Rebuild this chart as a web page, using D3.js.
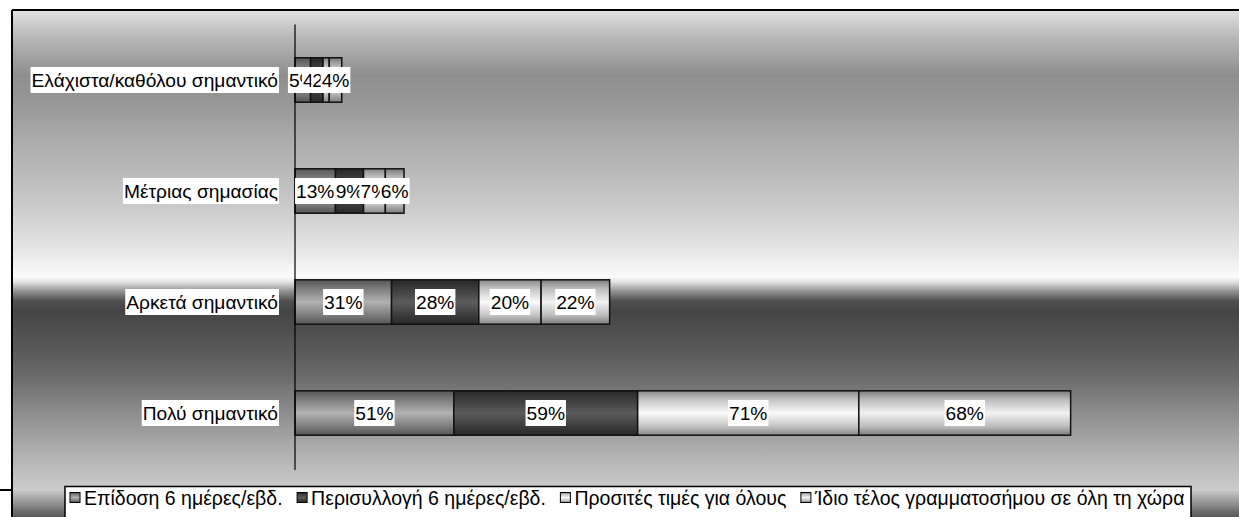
<!DOCTYPE html>
<html>
<head>
<meta charset="utf-8">
<script src="https://cdn.jsdelivr.net/npm/d3@7"></script>
<style>
  html, body { margin: 0; padding: 0; background: #fff; }
  svg { display: block; }
  text { font-family: "Liberation Sans", Arial, sans-serif; }
</style>
</head>
<body>
<svg id="chart" width="1239" height="517"></svg>
<script>
// Importance ratings (%) for each postal service aspect
const categories = ["Ελάχιστα/καθόλου σημαντικό", "Μέτριας σημασίας", "Αρκετά σημαντικό", "Πολύ σημαντικό"];
const seriesNames = ["Επίδοση 6 ημέρες/εβδ.", "Περισυλλογή 6 ημέρες/εβδ.", "Προσιτές τιμές για όλους", "Ίδιο τέλος γραμματοσήμου σε όλη τη χώρα"];
const delivery = [5, 13, 31, 51];
const collection = [4, 9, 28, 59];
const prices = [2, 7, 20, 71];
const postage = [4, 6, 22, 68];
const xMax = 300;

const seriesValues = [delivery, collection, prices, postage];
const keys = ["s0", "s1", "s2", "s3"];
const rows = categories.map((c, i) => {
  const r = { category: c };
  keys.forEach((k, j) => r[k] = seriesValues[j][i]);
  return r;
});

const svg = d3.select("#chart");
const defs = svg.append("defs");

// Chart area background: banded grey "chrome" gradient
const bg = defs.append("linearGradient").attr("id", "bg")
  .attr("x1", 0).attr("y1", 0).attr("x2", 0).attr("y2", 1);
[[0, "#e2e2e2"], [0.06, "#b6b6b6"], [0.135, "#8e8e8e"], [0.19, "#979797"],
 [0.29, "#b0b0b0"], [0.40, "#c8c8c8"], [0.50, "#e6e6e6"], [0.555, "#fbfbfb"],
 [0.565, "#e4e4e4"], [0.585, "#909090"], [0.605, "#505050"], [0.625, "#444444"],
 [0.69, "#555555"], [0.73, "#606060"], [0.77, "#6e6e6e"], [0.83, "#8a8a8a"],
 [0.92, "#b0b0b0"], [1, "#cccccc"]]
  .forEach(([o, c]) => bg.append("stop").attr("offset", o).attr("stop-color", c));

const bg2 = defs.append("linearGradient").attr("id", "bg2")
  .attr("x1", 0).attr("y1", 0).attr("x2", 0).attr("y2", 1);
[[0, "#c6c6c6"], [0.35, "#9a9a9a"], [0.7, "#6a6a6a"], [1, "#4c4c4c"]]
  .forEach(([o, c]) => bg2.append("stop").attr("offset", o).attr("stop-color", c));

// Bar fills: vertical metallic gradients, one per series
const barStops = [
  ["#565656", "#7c7c7c", "#b2b2b2"],
  ["#282828", "#3c3c3c", "#5c5c5c"],
  ["#888888", "#c4c4c4", "#fafafa"],
  ["#7c7c7c", "#bcbcbc", "#f2f2f2"]
];
barStops.forEach((s, i) => {
  const g = defs.append("linearGradient").attr("id", "bar" + i)
    .attr("x1", 0).attr("y1", 0).attr("x2", 0).attr("y2", 1);
  [[0, s[0]], [0.2, s[1]], [0.5, s[2]], [0.8, s[1]], [1, s[0]]]
    .forEach(([o, c]) => g.append("stop").attr("offset", o).attr("stop-color", c));
});

// Background panels and frame
svg.append("rect").attr("x", 12).attr("y", 10).attr("width", 1240).attr("height", 481)
  .attr("fill", "url(#bg)");
svg.append("rect").attr("x", 12).attr("y", 491).attr("width", 1240).attr("height", 30)
  .attr("fill", "url(#bg2)");
svg.append("line").attr("x1", 12).attr("x2", 1239).attr("y1", 10).attr("y2", 10)
  .attr("stroke", "#000").attr("stroke-width", 2);
svg.append("line").attr("x1", 12).attr("x2", 12).attr("y1", 10).attr("y2", 517)
  .attr("stroke", "#000").attr("stroke-width", 2);
svg.append("line").attr("x1", 0).attr("x2", 12).attr("y1", 490).attr("y2", 490)
  .attr("stroke", "#000").attr("stroke-width", 2);

// Scales
const x = d3.scaleLinear().domain([0, xMax]).range([295, 295 + 3.115 * xMax]);
const y = d3.scaleBand().domain(categories).range([24.5, 468.5])
  .paddingInner(0.6).paddingOuter(0.3);

const stacked = d3.stack().keys(keys)(rows);

// Bars
const layers = svg.append("g").selectAll("g").data(stacked).join("g")
  .attr("fill", (d, i) => `url(#bar${i})`);
layers.selectAll("rect").data(d => d).join("rect")
  .attr("x", d => x(d[0]))
  .attr("y", d => y(d.data.category))
  .attr("width", d => x(d[1]) - x(d[0]))
  .attr("height", y.bandwidth())
  .attr("stroke", "#111")
  .attr("stroke-width", 1.5);

// Category axis line
svg.append("line").attr("x1", x(0)).attr("x2", x(0)).attr("y1", 24.5).attr("y2", 470)
  .attr("stroke", "#000").attr("stroke-width", 1.2);

const fontSize = 19.2;

// Value labels on white boxes, drawn series by series
stacked.forEach(layer => {
  layer.forEach(d => {
    const g = svg.append("g");
    const cx = (x(d[0]) + x(d[1])) / 2;
    const cy = y(d.data.category) + y.bandwidth() / 2;
    const t = g.append("text").attr("x", cx).attr("y", cy)
      .attr("text-anchor", "middle").attr("dominant-baseline", "central")
      .attr("font-size", fontSize).attr("fill", "#000")
      .text((d[1] - d[0]) + "%");
    const w = t.node().getComputedTextLength();
    g.insert("rect", "text").attr("x", cx - w / 2 - 1).attr("y", cy - 13)
      .attr("width", w + 2).attr("height", 26).attr("fill", "#fff");
  });
});

// Category labels
categories.forEach(c => {
  const g = svg.append("g");
  const cy = y(c) + y.bandwidth() / 2;
  const t = g.append("text").attr("x", 278).attr("y", cy)
    .attr("text-anchor", "end").attr("dominant-baseline", "central")
    .attr("font-size", fontSize).attr("fill", "#000").text(c);
  const w = t.node().getComputedTextLength();
  g.insert("rect", "text").attr("x", 278 - w - 1).attr("y", cy - 13)
    .attr("width", w + 2).attr("height", 26).attr("fill", "#fff");
});

// Legend
const legend = svg.append("g");
legend.append("rect").attr("x", 65).attr("y", 486.5).attr("width", 1126).attr("height", 50)
  .attr("fill", "#fff").attr("stroke", "#000").attr("stroke-width", 1.5);
let lx = 70;
seriesNames.forEach((name, i) => {
  legend.append("rect").attr("x", lx).attr("y", 492.5).attr("width", 10).attr("height", 10)
    .attr("fill", `url(#bar${i})`).attr("stroke", "#000").attr("stroke-width", 1);
  const t = legend.append("text").attr("x", lx + 14).attr("y", 497.5)
    .attr("dominant-baseline", "central").attr("font-size", 19.5).attr("fill", "#000")
    .text(name);
  lx += 14 + t.node().getComputedTextLength() + 14.5;
});
</script>
</body>
</html>
